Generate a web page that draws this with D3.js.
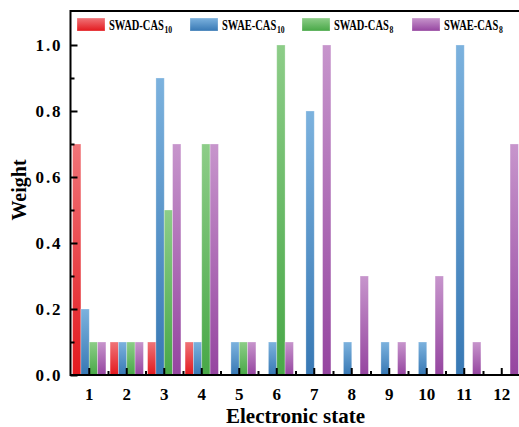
<!DOCTYPE html>
<html>
<head>
<meta charset="utf-8">
<script src="https://cdn.jsdelivr.net/npm/d3@7"></script>
<style>
  body { margin: 0; background: #fff; }
  svg { display: block; font-family: "Liberation Serif", "Times New Roman", serif; font-weight: bold; }
</style>
</head>
<body>
<svg id="chart"></svg>
<script>
// electronic states on the x axis
const states = [1, 2, 3, 4, 5, 6, 7, 8, 9, 10, 11, 12];

// weights per series, one value per state
const swadCas10 = [0.7, 0.1, 0.1, 0.1, 0, 0, 0, 0, 0, 0, 0, 0];
const swaeCas10 = [0.2, 0.1, 0.9, 0.1, 0.1, 0.1, 0.8, 0.1, 0.1, 0.1, 1.0, 0];
const swadCas8  = [0.1, 0.1, 0.5, 0.7, 0.1, 1.0, 0, 0, 0, 0, 0, 0];
const swaeCas8  = [0.1, 0.1, 0.7, 0.7, 0.1, 0.1, 1.0, 0.3, 0.1, 0.3, 0.1, 0.7];

const seriesNames = ['SWAD-CAS', 'SWAE-CAS', 'SWAD-CAS', 'SWAE-CAS'];
const seriesSubs = ['10', '10', '8', '8'];
const yTicks = [0, 0.2, 0.4, 0.6, 0.8, 1.0];
const yMinorTicks = [0.1, 0.3, 0.5, 0.7, 0.9];

const width = 519, height = 427;
const margin = {top: 11, left: 70.5, bottom: 375, right: 520.5};

// top / bottom gradient colours for each series
const colors = [
  ['#f07478', '#e3191e'],
  ['#7cb2de', '#3778b4'],
  ['#8dcd88', '#48a847'],
  ['#c795cc', '#9545a0']
];

const seriesKeys = ['s0', 's1', 's2', 's3'];
const allSeries = [swadCas10, swaeCas10, swadCas8, swaeCas8];

const svg = d3.select('#chart')
    .attr('width', width)
    .attr('height', height);

// gradients
const defs = svg.append('defs');
colors.forEach((c, i) => {
  const g = defs.append('linearGradient')
      .attr('id', 'grad' + i)
      .attr('x1', 0).attr('y1', 0).attr('x2', 0).attr('y2', 1);
  g.append('stop').attr('offset', '0%').attr('stop-color', c[0]);
  g.append('stop').attr('offset', '100%').attr('stop-color', c[1]);
});

// scales
const x0 = d3.scaleBand()
    .domain(states)
    .range([margin.left, margin.right])
    .paddingInner(0)
    .paddingOuter(0);

const x1 = d3.scaleBand()
    .domain(seriesKeys)
    .range([0, x0.bandwidth()])
    .paddingInner(0)
    .paddingOuter(0.25);

const xLin = d3.scaleLinear()
    .domain([0.5, 12.5])
    .range([margin.left, margin.right]);

const y = d3.scaleLinear()
    .domain([0, 1.103])
    .range([margin.bottom, margin.top]);

// bars
const rows = states.map((s, i) => {
  const r = {state: s};
  seriesKeys.forEach((k, j) => r[k] = allSeries[j][i]);
  return r;
});

svg.append('g')
  .selectAll('g')
  .data(rows)
  .join('g')
    .attr('transform', d => `translate(${x0(d.state)},0)`)
  .selectAll('rect')
  .data(d => seriesKeys.map((k, j) => ({key: k, idx: j, value: d[k]})).filter(e => e.value > 0))
  .join('rect')
    .attr('x', d => x1(d.key))
    .attr('y', d => y(d.value))
    .attr('width', x1.bandwidth())
    .attr('height', d => y(0) - y(d.value))
    .attr('fill', d => `url(#grad${d.idx})`)
    .attr('stroke', '#fff')
    .attr('stroke-opacity', 0.35)
    .attr('stroke-width', 0.8);

// axes
const xAxis = svg.append('g')
    .attr('transform', `translate(0,${margin.bottom})`)
    .call(d3.axisBottom(x0).tickSizeInner(-7).tickSizeOuter(0).tickPadding(13));

const xMinor = svg.append('g')
    .attr('transform', `translate(0,${margin.bottom})`)
    .call(d3.axisBottom(xLin).tickValues(states.slice(0, -1).map(s => s + 0.5))
      .tickSizeInner(-4).tickSizeOuter(0).tickFormat(''));

const yAxis = svg.append('g')
    .attr('transform', `translate(${margin.left},0)`)
    .call(d3.axisLeft(y).tickValues(yTicks).tickFormat(d3.format('.1f'))
      .tickSizeInner(-7).tickSizeOuter(0).tickPadding(10));

const yMinor = svg.append('g')
    .attr('transform', `translate(${margin.left},0)`)
    .call(d3.axisLeft(y).tickValues(yMinorTicks).tickSizeInner(-4).tickSizeOuter(0).tickFormat(''));

[xAxis, xMinor, yAxis, yMinor].forEach(a => {
  a.select('.domain').remove();
  a.selectAll('.tick line').attr('stroke', '#000').attr('stroke-width', 2);
  a.selectAll('.tick text')
      .attr('fill', '#000')
      .style('font-family', '"Liberation Serif", "Times New Roman", serif')
      .style('font-weight', 'bold')
      .style('font-size', '17px');
});

// y labels are set a bit wider in the original
yAxis.selectAll('.tick text')
    .attr('textLength', 25)
    .attr('lengthAdjust', 'spacing');

// frame
svg.append('rect')
    .attr('x', margin.left)
    .attr('y', margin.top)
    .attr('width', margin.right - margin.left)
    .attr('height', margin.bottom - margin.top)
    .attr('fill', 'none')
    .attr('stroke', '#000')
    .attr('stroke-width', 2);

// axis titles
svg.append('text')
    .attr('x', (margin.left + margin.right) / 2)
    .attr('y', 423)
    .attr('text-anchor', 'middle')
    .style('font-size', '21px')
    .text('Electronic state');

svg.append('text')
    .attr('transform', `translate(26,${(margin.top + margin.bottom) / 2 - 3}) rotate(-90)`)
    .attr('text-anchor', 'middle')
    .style('font-size', '20px')
    .text('Weight');

// legend
const legendX = [77, 190, 302, 412];
const legend = svg.append('g');

legend.selectAll('rect')
  .data(seriesNames)
  .join('rect')
    .attr('x', (d, i) => legendX[i])
    .attr('y', 18)
    .attr('width', 28)
    .attr('height', 13)
    .attr('fill', (d, i) => `url(#grad${i})`)
    .attr('stroke', '#fff')
    .attr('stroke-opacity', 0.35)
    .attr('stroke-width', 0.8);

// condensed label: main text plus subscript, squeezed horizontally
const lt = legend.selectAll('text')
  .data(seriesNames)
  .join('text')
    .attr('transform', (d, i) => `translate(${legendX[i] + 32},30) scale(0.7,1)`)
    .style('font-size', '15px');

lt.append('tspan').text(d => d);
lt.append('tspan')
    .attr('dx', 1)
    .attr('dy', 2.5)
    .style('font-size', '11px')
    .text((d, i) => seriesSubs[i]);
</script>
</body>
</html>
